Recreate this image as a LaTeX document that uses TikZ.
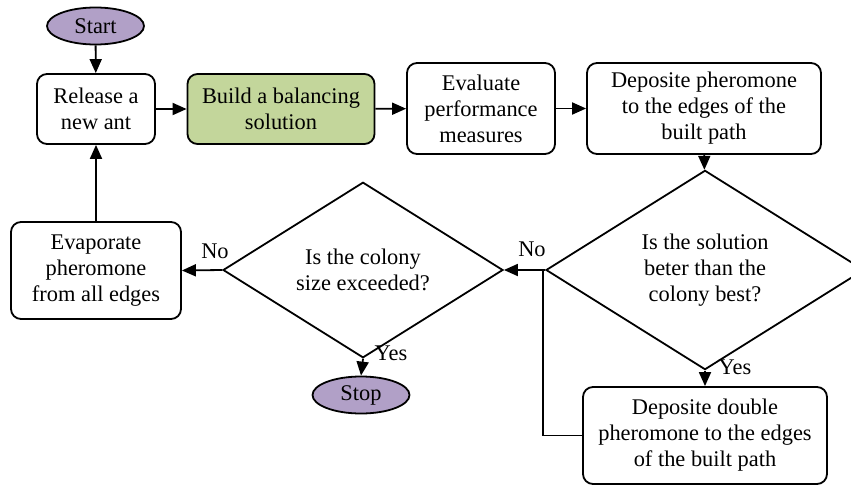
\documentclass[tikz,border=0pt]{standalone}
\usepackage{fontspec}
\setmainfont{Liberation Serif}
\usetikzlibrary{shapes.geometric,arrows.meta}
\definecolor{lav}{HTML}{B1A0C7}
\definecolor{grn}{HTML}{C3D69B}
\tikzset{
  base/.style={draw=black, line width=1.8pt, inner sep=0pt, align=center, font=\fontsize{22.4}{26}\selectfont},
  procbox/.style={base, rectangle, rounded corners=10pt},
  term/.style={base, ellipse, fill=lav, minimum width=97pt, minimum height=37pt},
  decide/.style={base, diamond},
  conn/.style={line width=1.8pt, -{Triangle[length=14pt,width=12pt]}},
  plainline/.style={line width=1.8pt},
  lbl/.style={font=\fontsize{22.4}{26}\selectfont, inner sep=0pt}
}
\begin{document}
\begin{tikzpicture}[x=1pt,y=-1pt]
\useasboundingbox (0,0) rectangle (851,487);
\node[term] (start) at (95.5,26) {Start};
\node[procbox, minimum width=118pt, minimum height=70pt] (release) at (96,109) {Release a\\new ant};
\node[procbox, fill=grn, minimum width=187pt, minimum height=70pt] (build) at (281,109) {Build a balancing\\solution};
\node[procbox, minimum width=148pt, minimum height=91pt] (eval) at (481,108.5) {Evaluate\\performance\\measures};
\node[procbox, minimum width=234pt, minimum height=91pt] (dep) at (704,108.5) {Deposite pheromone\\to the edges of the\\built path};
\node[decide, minimum width=318pt, minimum height=168pt] (d2) at (705,270) {Is the solution\\beter than the\\colony best?};
\node[procbox, minimum width=244pt, minimum height=97pt] (dd) at (705,435.5) {Deposite double\\pheromone to the edges\\of the built path};
\node[decide, minimum width=280pt, minimum height=132pt] (d1) at (363,270) {Is the colony\\size exceeded?};
\node[procbox, minimum width=170pt, minimum height=97pt] (evap) at (96,270.5) {Evaporate\\pheromone\\from all edges};
\node[term] (stop) at (361,395) {Stop};
\coordinate (j) at (543,270);
\node[lbl] (no2) at (532,249) {No};
\node[lbl] (yes2) at (735,367) {Yes};
\node[lbl] (no1) at (215,251) {No};
\node[lbl] (yes1) at (391,353) {Yes};
\draw[conn] (start) -- (release);
\draw[conn] (release) -- (build);
\draw[conn] (build) -- (eval);
\draw[conn] (eval) -- (dep);
\draw[conn] (dep) -- (d2);
\draw[conn] (d2.west) -- (d1.east);
\draw[conn] (d2.south) -- (dd.north);
\draw[plainline] (dd.west) -| (j);
\draw[conn] (d1.west) -- (evap.east);
\draw[conn] (d1.south) -- (stop.north);
\draw[conn] (evap.north) -- (release.south);
\end{tikzpicture}
\end{document}
